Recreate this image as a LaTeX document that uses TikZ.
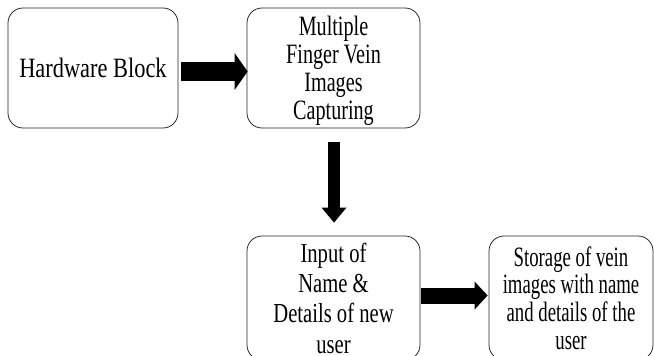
\documentclass[tikz,border=0pt]{standalone}
\usepackage{fontspec}
\setmainfont{Liberation Serif}
\newfontfamily\fa[FakeStretch=0.80]{Liberation Serif}
\newfontfamily\fb[FakeStretch=0.72]{Liberation Serif}
\newfontfamily\fc[FakeStretch=0.75]{Liberation Serif}
\newfontfamily\fd[FakeStretch=0.67]{Liberation Serif}
\usetikzlibrary{arrows.meta,calc}
\tikzset{
  box/.style={draw=black!85, line width=0.8pt, rounded corners=15pt, align=center, inner sep=0pt},
  blockarrow/.style={line width=#1, draw=black},
}
\begin{document}
\begin{tikzpicture}[x=1pt,y=-1pt]
\path[use as bounding box, clip] (0,0) rectangle (654,356);
\node[box, minimum width=170pt, minimum height=120pt, font={\fa\fontsize{28}{28}\selectfont}] (b1) at (93,68) {Hardware Block};
\node[box, minimum width=173pt, minimum height=120pt, font={\fb\fontsize{28}{28.3}\selectfont}] (b2) at (333.5,68) {\rule{0pt}{25pt}Multiple\\Finger Vein\\Images\\Capturing};
\node[box, minimum width=173pt, minimum height=124pt, font={\fc\fontsize{27.5}{30.3}\selectfont}] (b3) at (333.5,298) {Input of\\Name \&\\Details of new\\user};
\node[box, minimum width=164pt, minimum height=124pt, font={\fd\fontsize{28}{27.7}\selectfont}] (b4) at (571,298) {Storage of vein\\images with name\\and details of the\\user};
\draw[blockarrow=19pt, -{Triangle[length=13pt,width=37pt,line width=0pt]}, shorten <=3pt, shorten >=-1pt, transform canvas={yshift=-3.5pt}] (b1.east) -- (b2.west);
\draw[blockarrow=12pt, -{Triangle[length=15pt,width=25pt,line width=0pt]}, shorten <=14pt, shorten >=13pt, transform canvas={xshift=0.5pt}] (b2.south) -- (b3.north);
\draw[blockarrow=16pt, -{Triangle[length=13pt,width=28pt,line width=0pt]}, shorten <=1pt, shorten >=1pt, transform canvas={yshift=2.5pt}] (b3.east) -- (b4.west);
\end{tikzpicture}
\end{document}
